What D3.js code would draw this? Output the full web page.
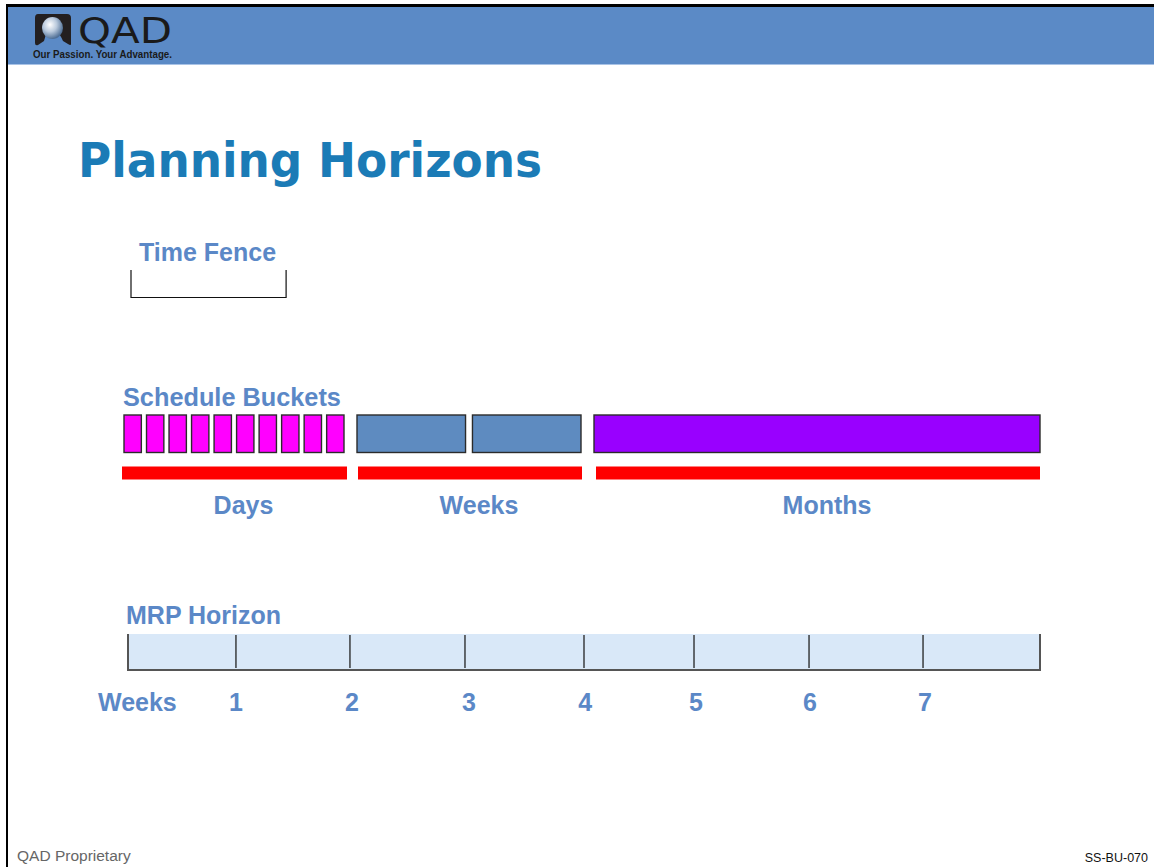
<!DOCTYPE html>
<html>
<head>
<meta charset="utf-8">
<script src="https://cdn.jsdelivr.net/npm/d3@7"></script>
<style>
  html, body { margin: 0; padding: 0; background: #fff; }
  svg { display: block; }
</style>
</head>
<body>
<svg id="chart" width="1154" height="867"></svg>
<script>
// ---------- data ----------
const titleText = "Planning Horizons";
const timeFence = [0, 1.4];                 // weeks
const bucketGroups = ["Days", "Weeks", "Months"];
const bucketSpans = [[0, 2], [2, 4], [4, 8]]; // weeks covered by each group
const bucketCounts = [10, 2, 1];             // number of buckets in each group
const weekLabels = [1, 2, 3, 4, 5, 6, 7];
const weekTickPos = [0.947, 1.947, 2.956, 4.0, 4.965, 5.974, 6.974]; // as drawn on the slide
const weekLabelPos = [0.947, 1.965, 2.99, 4.01, 4.983, 5.983, 6.99];
const horizonWeeks = [0, 8];

// ---------- styles ----------
const labelBlue = "#5b88c7";
const bucketColors = ["#ff00ff", "#5e8bc0", "#9900ff"];

const svg = d3.select("#chart");
const x = d3.scaleLinear().domain(horizonWeeks).range([128, 1040]);

// page frame & header
svg.append("rect").attr("x", 8).attr("y", 7).attr("width", 1146).attr("height", 57).attr("fill", "#5b8ac6");
svg.append("line").attr("x1", 6).attr("x2", 1154).attr("y1", 5.5).attr("y2", 5.5).attr("stroke", "#000").attr("stroke-width", 3);
svg.append("line").attr("x1", 7).attr("x2", 7).attr("y1", 4).attr("y2", 867).attr("stroke", "#000").attr("stroke-width", 2);
svg.append("line").attr("x1", 8).attr("x2", 1154).attr("y1", 64.5).attr("y2", 64.5).attr("stroke", "#a9c3e6").attr("stroke-width", 1);

// logo
const defs = svg.append("defs");
const grad = defs.append("radialGradient").attr("id", "sph").attr("cx", "0.38").attr("cy", "0.35").attr("r", "0.65");
grad.append("stop").attr("offset", "0").attr("stop-color", "#ffffff");
grad.append("stop").attr("offset", "0.5").attr("stop-color", "#b9c9dc");
grad.append("stop").attr("offset", "1").attr("stop-color", "#4f6f96");
const logo = svg.append("g");
logo.append("path")
  .attr("d", "M38,14 H67 Q71,14 71,18 V44 Q71,46 68,44 L63,41 Q60,33 54,30 Q46,30 44,41 L38,45 Q35,46 35,43 V18 Q35,14 38,14 Z")
  .attr("fill", "#231f20");
logo.append("ellipse").attr("cx", 52.5).attr("cy", 28).attr("rx", 10.5).attr("ry", 11).attr("fill", "url(#sph)");
logo.append("text").attr("x", 78).attr("y", 43).attr("font-family", "DejaVu Sans, sans-serif")
  .attr("font-size", 36).attr("font-weight", "normal").attr("fill", "#1a1a1a")
  .attr("textLength", 94).attr("lengthAdjust", "spacingAndGlyphs").text("QAD");
logo.append("text").attr("x", 33).attr("y", 58).attr("font-family", "Liberation Sans, Arial, sans-serif")
  .attr("font-size", 10).attr("font-weight", "bold").attr("fill", "#1a1a1a")
  .attr("textLength", 139).attr("lengthAdjust", "spacingAndGlyphs").text("Our Passion. Your Advantage.");

// title
svg.append("text").attr("x", 78).attr("y", 177)
  .attr("font-family", "DejaVu Sans, Verdana, sans-serif").attr("font-weight", "bold").attr("font-size", 48)
  .attr("fill", "#1b7bb6").attr("textLength", 464).attr("lengthAdjust", "spacingAndGlyphs").text(titleText);

const lab = (t, xx, yy, anchor) => svg.append("text").attr("x", xx).attr("y", yy)
  .attr("font-family", "Liberation Sans, Arial, sans-serif").attr("font-weight", "bold").attr("font-size", 25)
  .attr("fill", labelBlue).attr("text-anchor", anchor || "start").text(t);

// time fence
lab("Time Fence", 139, 261);
svg.append("path")
  .attr("d", `M${x(timeFence[0]) + 3},270 V297.5 H${x(timeFence[1]) - 1.5} V270`)
  .attr("fill", "none").attr("stroke", "#111").attr("stroke-width", 1.2);

// schedule buckets
lab("Schedule Buckets", 123, 406).attr("font-size", 25.3);
const gapL = [-4, 1, 10];   // offsets of bucket row start from span start
const gapR = [-12, -3, 0];  // offsets of bucket row end from span end
const padIn = [0.23, 0.06, 0];
bucketGroups.forEach((g, i) => {
  const [a, b] = bucketSpans[i];
  const band = d3.scaleBand().domain(d3.range(bucketCounts[i]))
    .range([x(a) + gapL[i], x(b) + gapR[i]]).paddingInner(padIn[i]).paddingOuter(0);
  svg.append("g").selectAll("rect").data(d3.range(bucketCounts[i])).join("rect")
    .attr("x", d => band(d)).attr("y", 415).attr("width", band.bandwidth()).attr("height", 37.5)
    .attr("fill", bucketColors[i]).attr("stroke", "#2b2b2b").attr("stroke-width", 1.4);
});
// red span bars
const barL = [-6, 2, 12];
const barR = [-9, -2, 0];
svg.append("g").selectAll("rect").data(bucketSpans).join("rect")
  .attr("x", (d, i) => x(d[0]) + barL[i]).attr("y", 466.5)
  .attr("width", (d, i) => x(d[1]) + barR[i] - x(d[0]) - barL[i]).attr("height", 13)
  .attr("fill", "#ff0000");
svg.append("g").selectAll("text").data(bucketGroups).join("text")
  .attr("x", (d, i) => (x(bucketSpans[i][0]) + barL[i] + x(bucketSpans[i][1]) + barR[i]) / 2 + 9)
  .attr("y", 514).attr("text-anchor", "middle")
  .attr("font-family", "Liberation Sans, Arial, sans-serif").attr("font-weight", "bold").attr("font-size", 25)
  .attr("fill", labelBlue).text(d => d);

// MRP horizon
lab("MRP Horizon", 126, 624);
svg.append("rect").attr("x", x(horizonWeeks[0])).attr("y", 634).attr("width", x(horizonWeeks[1]) - x(horizonWeeks[0]))
  .attr("height", 36).attr("fill", "#d9e8f8");
svg.append("path")
  .attr("d", `M${x(horizonWeeks[0])},634 V670 H${x(horizonWeeks[1])} V634`)
  .attr("fill", "none").attr("stroke", "#555").attr("stroke-width", 2);
svg.append("g").selectAll("line").data(weekTickPos).join("line")
  .attr("x1", d => x(d)).attr("x2", d => x(d)).attr("y1", 635).attr("y2", 668)
  .attr("stroke", "#222").attr("stroke-width", 1.3);

lab("Weeks", 98, 711);
svg.append("g").selectAll("text").data(weekLabels).join("text")
  .attr("x", (d, i) => x(weekLabelPos[i])).attr("y", 711).attr("text-anchor", "middle")
  .attr("font-family", "Liberation Sans, Arial, sans-serif").attr("font-weight", "bold").attr("font-size", 25)
  .attr("fill", labelBlue).text(d => d);

// footer
svg.append("text").attr("x", 17).attr("y", 861).attr("font-family", "Liberation Sans, Arial, sans-serif")
  .attr("font-size", 15.5).attr("fill", "#666").text("QAD Proprietary");
svg.append("text").attr("x", 1148).attr("y", 862).attr("text-anchor", "end").attr("font-family", "Liberation Sans, Arial, sans-serif")
  .attr("font-size", 12.5).attr("fill", "#111").text("SS-BU-070");
</script>
</body>
</html>
